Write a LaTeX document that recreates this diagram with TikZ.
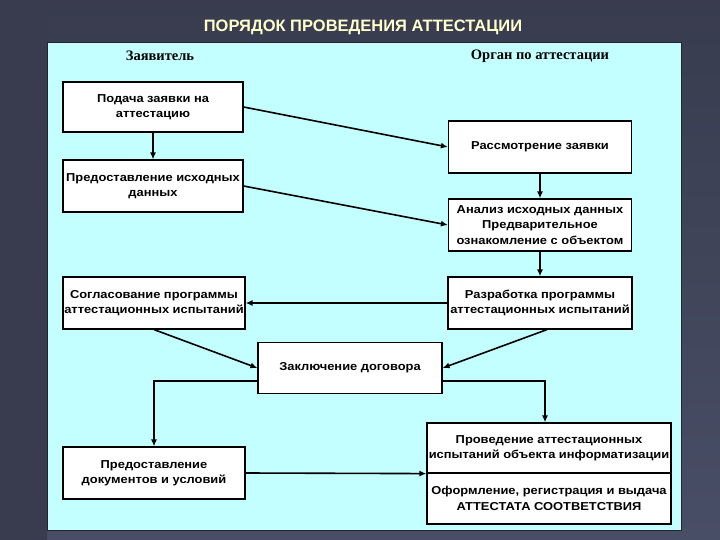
\documentclass[tikz,border=0pt]{standalone}
\usepackage{fontspec}
\setmainfont{Liberation Sans}
\newfontfamily\hdrfont{Liberation Serif}
\newfontfamily\blkfont[FakeStretch=1.12]{Liberation Sans}
\usetikzlibrary{arrows.meta,positioning}

\definecolor{slatedark}{RGB}{56,60,78}
\definecolor{slatelow}{RGB}{72,78,102}
\definecolor{slatelight}{RGB}{110,117,152}
\definecolor{panelcyan}{RGB}{196,255,255}
\definecolor{titleyellow}{RGB}{255,255,204}

\tikzset{
  stepbox/.style={draw=black, line width=1.2pt, fill=white, minimum width=182pt,
    minimum height=52pt, align=center, inner sep=1pt,
    font={\blkfont\bfseries\fontsize{11.5}{15.5}\selectfont}},
  flow/.style={line width=1.6pt, -{Latex[length=7pt,width=6pt]}},
  colhead/.style={font={\hdrfont\bfseries\fontsize{14.5}{16}\selectfont}}
}

\begin{document}
\begin{tikzpicture}[x=1pt,y=-1pt]
\useasboundingbox (0,0) rectangle (720,540);
% background
\shade[top color=slatedark, bottom color=slatelow] (0,0) rectangle (720,540);
\shade[top color=slatedark, middle color=slatelight, bottom color=slatedark] (0,0) rectangle (47,540);
\draw[black!85, line width=0.8pt, fill=panelcyan] (47,42) rectangle (681,530);

\node[text=titleyellow, font={\bfseries\fontsize{16.5}{18}\selectfont}] (title) at (363,27) {ПОРЯДОК ПРОВЕДЕНИЯ АТТЕСТАЦИИ};
\node[colhead] (zayavitel) at (160,56) {Заявитель};
\node[colhead] (organ) at (540,56) {Орган по аттестации};

% left column
\node[stepbox, minimum width=180pt, minimum height=50pt] (podacha) at (153,107) {Подача заявки на\\аттестацию};
\node[stepbox, minimum width=180pt] (ishod) at (153,186) {Предоставление исходных\\данных};
\node[stepbox] (soglas) at (154,303) {Согласование программы\\аттестационных испытаний};
\node[stepbox] (dokum) at (154,473) {Предоставление\\документов и условий};

% right column
\node[stepbox, minimum width=183pt] (rassm) at (540,147) {Рассмотрение заявки};
\node[stepbox, minimum width=183pt] (analiz) at (540,225) {Анализ исходных данных\\Предварительное\\ознакомление с объектом};
\node[stepbox, minimum width=184pt] (razrab) at (540,303) {Разработка программы\\аттестационных испытаний};
\node[stepbox, minimum width=184pt, minimum height=51pt] (dogovor) at (350,368) {Заключение договора};
\node[stepbox, minimum width=244pt, minimum height=50pt] (provedenie) at (549,448) {Проведение аттестационных\\испытаний объекта информатизации};
\node[stepbox, minimum width=244pt, minimum height=51pt] (attestat) at (549,498.5) {Оформление, регистрация и выдача\\АТТЕСТАТА СООТВЕТСТВИЯ};

% connectors
\draw[flow] (podacha) -- (ishod);
\draw[flow] (podacha.east) -- (rassm.west);
\draw[flow] (ishod.east) -- (analiz.west);
\draw[flow] (rassm) -- (analiz);
\draw[flow] (analiz) -- (razrab);
\draw[flow] (razrab) -- (soglas);
\draw[flow] (soglas.south) -- (dogovor.west);
\draw[flow] ([xshift=7pt]razrab.south) -- (dogovor.east);
\draw[flow] ([yshift=-13pt]dogovor.west) -| (dokum.north);
\draw[flow] ([yshift=-13pt]dogovor.east) -| ([xshift=-4pt]provedenie.north);
\draw[flow] (dokum.east) -- (provedenie.south west);
\end{tikzpicture}
\end{document}
